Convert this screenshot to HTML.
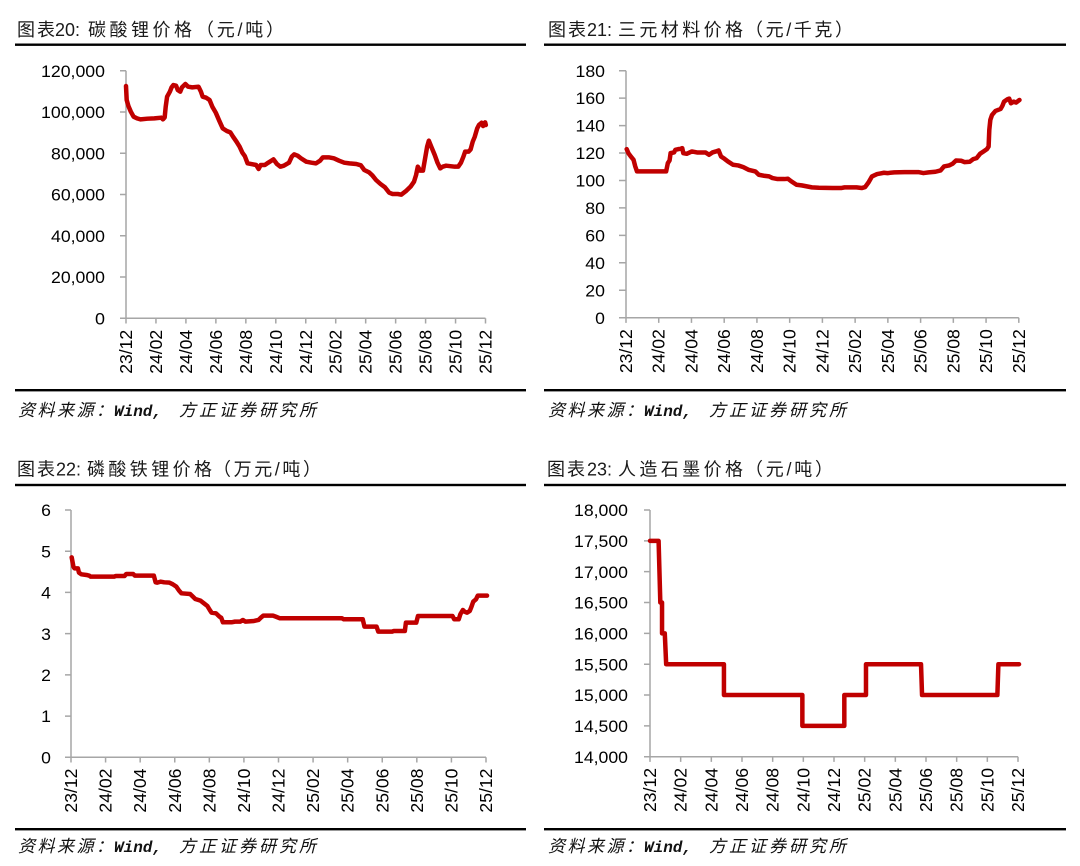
<!DOCTYPE html>
<html>
<head>
<meta charset="utf-8">
<style>
html,body{margin:0;padding:0;background:#fff;}
svg{display:block;}
.t{font-family:"Liberation Sans","Noto Sans CJK SC",sans-serif;font-size:18px;fill:#1a1a1a;}
.y{font-family:"Liberation Sans",sans-serif;font-size:17px;fill:#000;text-anchor:end;}
.x{font-family:"Liberation Sans",sans-serif;font-size:17.5px;fill:#000;text-anchor:end;}
.s{font-family:"Liberation Sans","Noto Sans CJK SC",sans-serif;font-size:17px;font-style:italic;fill:#111;}
.m{font-family:"Liberation Mono",monospace;font-size:16px;font-style:italic;font-weight:bold;fill:#111;}
.ax{stroke:#a6a6a6;stroke-width:1.5;fill:none;}
.ln{fill:none;stroke:#c00000;stroke-width:4.5;stroke-linejoin:round;stroke-linecap:round;}
</style>
</head>
<body>
<svg width="1080" height="866" viewBox="0 0 1080 866" xmlns="http://www.w3.org/2000/svg">
<rect width="1080" height="866" fill="#fff"/>

<!-- ================= Chart 1 ================= -->
<text class="t" x="17" y="36" textLength="38" lengthAdjust="spacing">图表</text>
<text class="t" x="55" y="36">20:</text>
<text class="t" x="88" y="36" textLength="104" lengthAdjust="spacing">碳酸锂价格</text>
<text class="t" x="196" y="36" textLength="88" lengthAdjust="spacing">（元/吨）</text>
<rect x="15" y="43.5" width="511" height="2.4" fill="#000"/>

<path class="ax" d="M126 70.7V318.3H485.5"/>
<path class="ax" d="M120 70.7H126M120 111.97H126M120 153.24H126M120 194.51H126M120 235.78H126M120 277.05H126M120 318.3H126"/>
<path class="ax" d="M126 318.3V323.5M155.96 318.3V323.5M185.92 318.3V323.5M215.88 318.3V323.5M245.84 318.3V323.5M275.8 318.3V323.5M305.76 318.3V323.5M335.72 318.3V323.5M365.68 318.3V323.5M395.64 318.3V323.5M425.6 318.3V323.5M455.56 318.3V323.5M485.5 318.3V323.5"/>

<text class="y" x="105" y="76.8" textLength="64" lengthAdjust="spacingAndGlyphs">120,000</text>
<text class="y" x="105" y="118.1" textLength="64" lengthAdjust="spacingAndGlyphs">100,000</text>
<text class="y" x="105" y="159.3" textLength="54" lengthAdjust="spacingAndGlyphs">80,000</text>
<text class="y" x="105" y="200.6" textLength="54" lengthAdjust="spacingAndGlyphs">60,000</text>
<text class="y" x="105" y="241.9" textLength="54" lengthAdjust="spacingAndGlyphs">40,000</text>
<text class="y" x="105" y="283.2" textLength="54" lengthAdjust="spacingAndGlyphs">20,000</text>
<text class="y" x="105" y="324.4" textLength="10" lengthAdjust="spacingAndGlyphs">0</text>

<g>
<text class="x" transform="translate(132,329.8) rotate(-90)" textLength="44" lengthAdjust="spacingAndGlyphs">23/12</text>
<text class="x" transform="translate(161.96,329.8) rotate(-90)" textLength="44" lengthAdjust="spacingAndGlyphs">24/02</text>
<text class="x" transform="translate(191.92,329.8) rotate(-90)" textLength="44" lengthAdjust="spacingAndGlyphs">24/04</text>
<text class="x" transform="translate(221.88,329.8) rotate(-90)" textLength="44" lengthAdjust="spacingAndGlyphs">24/06</text>
<text class="x" transform="translate(251.84,329.8) rotate(-90)" textLength="44" lengthAdjust="spacingAndGlyphs">24/08</text>
<text class="x" transform="translate(281.8,329.8) rotate(-90)" textLength="44" lengthAdjust="spacingAndGlyphs">24/10</text>
<text class="x" transform="translate(311.76,329.8) rotate(-90)" textLength="44" lengthAdjust="spacingAndGlyphs">24/12</text>
<text class="x" transform="translate(341.72,329.8) rotate(-90)" textLength="44" lengthAdjust="spacingAndGlyphs">25/02</text>
<text class="x" transform="translate(371.68,329.8) rotate(-90)" textLength="44" lengthAdjust="spacingAndGlyphs">25/04</text>
<text class="x" transform="translate(401.64,329.8) rotate(-90)" textLength="44" lengthAdjust="spacingAndGlyphs">25/06</text>
<text class="x" transform="translate(431.6,329.8) rotate(-90)" textLength="44" lengthAdjust="spacingAndGlyphs">25/08</text>
<text class="x" transform="translate(461.56,329.8) rotate(-90)" textLength="44" lengthAdjust="spacingAndGlyphs">25/10</text>
<text class="x" transform="translate(491.5,329.8) rotate(-90)" textLength="44" lengthAdjust="spacingAndGlyphs">25/12</text>
</g>

<g transform="translate(-1.09,0.05) scale(0.34534,0.33325)">
<polyline class="ln" vector-effect="non-scaling-stroke" points="368,258 370,300 375,318 382,335 390,350 400,355 410,358 430,356 450,355 470,353 475,358 480,352 483,320 487,290 495,275 500,262 505,255 513,257 518,270 525,275 530,262 540,252 548,260 560,262 578,260 585,275 590,290 600,293 610,300 618,320 628,338 638,362 648,385 660,393 670,397 678,410 688,425 697,440 705,458 712,468 720,490 735,493 745,495 752,507 758,495 770,495 780,488 795,478 805,492 815,500 825,497 840,488 848,470 855,463 865,467 875,475 890,485 905,488 918,490 930,482 938,472 955,472 970,475 985,482 1000,488 1015,490 1035,492 1048,496 1058,510 1072,517 1082,527 1092,540 1105,552 1118,562 1130,578 1140,582 1155,582 1165,584 1180,572 1192,560 1202,545 1208,525 1213,500 1220,512 1228,512 1235,470 1240,440 1245,422 1252,440 1262,465 1270,488 1278,505 1285,500 1295,497 1320,500 1330,500 1338,488 1345,470 1350,455 1360,455 1366,448 1372,425 1378,410 1385,385 1390,375 1398,368 1402,378 1408,367 1410,375"/>
</g>

<rect x="15" y="389" width="511" height="2.4" fill="#000"/>
<text class="s" x="18" y="416" textLength="95" lengthAdjust="spacing">资料来源：</text>
<text class="m" x="114" y="416">Wind,</text>
<text class="s" x="179" y="416" textLength="137" lengthAdjust="spacing">方正证券研究所</text>

<!-- ================= Chart 2 ================= -->
<text class="t" x="548" y="36" textLength="38" lengthAdjust="spacing">图表</text>
<text class="t" x="587" y="36">21:</text>
<text class="t" x="618" y="36" textLength="125" lengthAdjust="spacing">三元材料价格</text>
<text class="t" x="745" y="36" textLength="108" lengthAdjust="spacing">（元/千克）</text>
<rect x="544" y="43.5" width="522" height="2.4" fill="#000"/>

<path class="ax" d="M626 70.7V317.7H1018.8"/>
<path class="ax" d="M619 70.7H626M619 98.14H626M619 125.59H626M619 153.03H626M619 180.48H626M619 207.92H626M619 235.36H626M619 262.81H626M619 290.25H626M619 317.7H626"/>
<path class="ax" d="M626 317.7V322.9M658.73 317.7V322.9M691.47 317.7V322.9M724.2 317.7V322.9M756.93 317.7V322.9M789.67 317.7V322.9M822.4 317.7V322.9M855.13 317.7V322.9M887.87 317.7V322.9M920.6 317.7V322.9M953.33 317.7V322.9M986.07 317.7V322.9M1018.8 317.7V322.9"/>

<text class="y" x="605" y="76.8" textLength="29.5" lengthAdjust="spacingAndGlyphs">180</text>
<text class="y" x="605" y="104.2" textLength="29.5" lengthAdjust="spacingAndGlyphs">160</text>
<text class="y" x="605" y="131.7" textLength="29.5" lengthAdjust="spacingAndGlyphs">140</text>
<text class="y" x="605" y="159.1" textLength="29.5" lengthAdjust="spacingAndGlyphs">120</text>
<text class="y" x="605" y="186.6" textLength="29.5" lengthAdjust="spacingAndGlyphs">100</text>
<text class="y" x="605" y="214" textLength="19.7" lengthAdjust="spacingAndGlyphs">80</text>
<text class="y" x="605" y="241.5" textLength="19.7" lengthAdjust="spacingAndGlyphs">60</text>
<text class="y" x="605" y="268.9" textLength="19.7" lengthAdjust="spacingAndGlyphs">40</text>
<text class="y" x="605" y="296.4" textLength="19.7" lengthAdjust="spacingAndGlyphs">20</text>
<text class="y" x="605" y="323.8" textLength="9.8" lengthAdjust="spacingAndGlyphs">0</text>

<g>
<text class="x" transform="translate(632,329.2) rotate(-90)" textLength="44" lengthAdjust="spacingAndGlyphs">23/12</text>
<text class="x" transform="translate(664.73,329.2) rotate(-90)" textLength="44" lengthAdjust="spacingAndGlyphs">24/02</text>
<text class="x" transform="translate(697.47,329.2) rotate(-90)" textLength="44" lengthAdjust="spacingAndGlyphs">24/04</text>
<text class="x" transform="translate(730.2,329.2) rotate(-90)" textLength="44" lengthAdjust="spacingAndGlyphs">24/06</text>
<text class="x" transform="translate(762.93,329.2) rotate(-90)" textLength="44" lengthAdjust="spacingAndGlyphs">24/08</text>
<text class="x" transform="translate(795.67,329.2) rotate(-90)" textLength="44" lengthAdjust="spacingAndGlyphs">24/10</text>
<text class="x" transform="translate(828.4,329.2) rotate(-90)" textLength="44" lengthAdjust="spacingAndGlyphs">24/12</text>
<text class="x" transform="translate(861.13,329.2) rotate(-90)" textLength="44" lengthAdjust="spacingAndGlyphs">25/02</text>
<text class="x" transform="translate(893.87,329.2) rotate(-90)" textLength="44" lengthAdjust="spacingAndGlyphs">25/04</text>
<text class="x" transform="translate(926.6,329.2) rotate(-90)" textLength="44" lengthAdjust="spacingAndGlyphs">25/06</text>
<text class="x" transform="translate(959.33,329.2) rotate(-90)" textLength="44" lengthAdjust="spacingAndGlyphs">25/08</text>
<text class="x" transform="translate(992.07,329.2) rotate(-90)" textLength="44" lengthAdjust="spacingAndGlyphs">25/10</text>
<text class="x" transform="translate(1024.8,329.2) rotate(-90)" textLength="44" lengthAdjust="spacingAndGlyphs">25/12</text>
</g>

<g transform="translate(540.92,0.23) scale(0.34306,0.3324)">
<polyline class="ln" vector-effect="non-scaling-stroke" points="250,448 255,460 262,470 270,480 275,500 280,515 290,515 365,515 370,490 375,482 378,460 388,458 392,450 400,448 407,447 412,445 415,460 425,462 440,455 455,458 480,458 490,465 500,458 510,455 518,452 525,470 535,477 545,485 560,495 575,497 590,502 605,510 625,515 635,525 650,528 665,530 675,535 690,538 710,538 720,537 730,545 745,555 760,557 775,560 790,563 810,564 850,565 875,565 885,563 920,563 935,565 945,562 955,548 965,530 980,523 990,521 1000,519 1010,520 1030,518 1060,517 1100,517 1115,520 1130,518 1150,516 1165,512 1175,500 1190,497 1200,492 1210,482 1225,483 1235,487 1250,486 1260,478 1270,475 1280,462 1290,455 1300,448 1305,440 1307,390 1310,360 1315,345 1325,333 1340,327 1345,318 1350,305 1360,298 1365,296 1370,310 1378,305 1385,308 1395,300"/>
</g>

<rect x="544" y="389" width="522" height="2.4" fill="#000"/>
<text class="s" x="548" y="416" textLength="95" lengthAdjust="spacing">资料来源：</text>
<text class="m" x="644" y="416">Wind,</text>
<text class="s" x="709" y="416" textLength="137" lengthAdjust="spacing">方正证券研究所</text>

<!-- ================= Chart 3 ================= -->
<text class="t" x="17" y="475.5" textLength="38" lengthAdjust="spacing">图表</text>
<text class="t" x="56" y="475.5">22:</text>
<text class="t" x="87" y="475.5" textLength="125" lengthAdjust="spacing">磷酸铁锂价格</text>
<text class="t" x="213" y="475.5" textLength="108" lengthAdjust="spacing">（万元/吨）</text>
<rect x="15" y="483.8" width="511" height="2.4" fill="#000"/>

<path class="ax" d="M71 510V757.3H486"/>
<path class="ax" d="M65 510H71M65 551.22H71M65 592.43H71M65 633.65H71M65 674.87H71M65 716.08H71M65 757.3H71"/>
<path class="ax" d="M71 757.3V762.5M105.58 757.3V762.5M140.17 757.3V762.5M174.75 757.3V762.5M209.33 757.3V762.5M243.92 757.3V762.5M278.5 757.3V762.5M313.08 757.3V762.5M347.67 757.3V762.5M382.25 757.3V762.5M416.83 757.3V762.5M451.42 757.3V762.5M486 757.3V762.5"/>

<text class="y" x="51" y="516.1" textLength="9.8" lengthAdjust="spacingAndGlyphs">6</text>
<text class="y" x="51" y="557.3" textLength="9.8" lengthAdjust="spacingAndGlyphs">5</text>
<text class="y" x="51" y="598.5" textLength="9.8" lengthAdjust="spacingAndGlyphs">4</text>
<text class="y" x="51" y="639.8" textLength="9.8" lengthAdjust="spacingAndGlyphs">3</text>
<text class="y" x="51" y="681" textLength="9.8" lengthAdjust="spacingAndGlyphs">2</text>
<text class="y" x="51" y="722.2" textLength="9.8" lengthAdjust="spacingAndGlyphs">1</text>
<text class="y" x="51" y="763.4" textLength="9.8" lengthAdjust="spacingAndGlyphs">0</text>

<g>
<text class="x" transform="translate(77,768.6) rotate(-90)" textLength="44" lengthAdjust="spacingAndGlyphs">23/12</text>
<text class="x" transform="translate(111.58,768.6) rotate(-90)" textLength="44" lengthAdjust="spacingAndGlyphs">24/02</text>
<text class="x" transform="translate(146.17,768.6) rotate(-90)" textLength="44" lengthAdjust="spacingAndGlyphs">24/04</text>
<text class="x" transform="translate(180.75,768.6) rotate(-90)" textLength="44" lengthAdjust="spacingAndGlyphs">24/06</text>
<text class="x" transform="translate(215.33,768.6) rotate(-90)" textLength="44" lengthAdjust="spacingAndGlyphs">24/08</text>
<text class="x" transform="translate(249.92,768.6) rotate(-90)" textLength="44" lengthAdjust="spacingAndGlyphs">24/10</text>
<text class="x" transform="translate(284.5,768.6) rotate(-90)" textLength="44" lengthAdjust="spacingAndGlyphs">24/12</text>
<text class="x" transform="translate(319.08,768.6) rotate(-90)" textLength="44" lengthAdjust="spacingAndGlyphs">25/02</text>
<text class="x" transform="translate(353.67,768.6) rotate(-90)" textLength="44" lengthAdjust="spacingAndGlyphs">25/04</text>
<text class="x" transform="translate(388.25,768.6) rotate(-90)" textLength="44" lengthAdjust="spacingAndGlyphs">25/06</text>
<text class="x" transform="translate(422.83,768.6) rotate(-90)" textLength="44" lengthAdjust="spacingAndGlyphs">25/08</text>
<text class="x" transform="translate(457.42,768.6) rotate(-90)" textLength="44" lengthAdjust="spacingAndGlyphs">25/10</text>
<text class="x" transform="translate(492,768.6) rotate(-90)" textLength="44" lengthAdjust="spacingAndGlyphs">25/12</text>
</g>

<g transform="translate(0.22,440) scale(0.34526,0.33329)">
<polyline class="ln" vector-effect="non-scaling-stroke" points="207,352 212,380 215,385 225,385 228,398 235,403 250,405 258,407 262,410 330,410 335,408 360,408 365,402 385,402 390,407 445,407 450,427 455,428 465,425 475,427 490,428 500,433 510,440 518,452 525,460 550,462 558,470 565,477 580,482 590,490 600,498 607,510 612,518 625,520 635,530 640,533 645,547 670,547 680,545 695,545 703,540 710,545 735,543 748,540 755,533 762,527 790,527 798,530 810,535 990,535 995,538 1050,538 1055,560 1090,560 1095,575 1135,575 1140,573 1172,573 1175,548 1205,548 1210,528 1310,528 1315,538 1328,538 1333,522 1340,510 1345,515 1352,518 1360,513 1365,500 1370,485 1378,478 1383,467 1410,467"/>
</g>

<rect x="15" y="828" width="511" height="2.4" fill="#000"/>
<text class="s" x="18" y="852" textLength="95" lengthAdjust="spacing">资料来源：</text>
<text class="m" x="114" y="852">Wind,</text>
<text class="s" x="179" y="852" textLength="137" lengthAdjust="spacing">方正证券研究所</text>

<!-- ================= Chart 4 ================= -->
<text class="t" x="547" y="475.5" textLength="38" lengthAdjust="spacing">图表</text>
<text class="t" x="587" y="475.5">23:</text>
<text class="t" x="618" y="475.5" textLength="125" lengthAdjust="spacing">人造石墨价格</text>
<text class="t" x="745" y="475.5" textLength="88" lengthAdjust="spacing">（元/吨）</text>
<rect x="544" y="483.8" width="522" height="2.4" fill="#000"/>

<path class="ax" d="M650 510V756.7H1018"/>
<path class="ax" d="M644 510H650M644 540.84H650M644 571.68H650M644 602.51H650M644 633.35H650M644 664.19H650M644 695.03H650M644 725.86H650M644 756.7H650"/>
<path class="ax" d="M650 756.7V761.9M680.67 756.7V761.9M711.33 756.7V761.9M742 756.7V761.9M772.67 756.7V761.9M803.33 756.7V761.9M834 756.7V761.9M864.67 756.7V761.9M895.33 756.7V761.9M926 756.7V761.9M956.67 756.7V761.9M987.33 756.7V761.9M1018 756.7V761.9"/>

<text class="y" x="628" y="516.1" textLength="54" lengthAdjust="spacingAndGlyphs">18,000</text>
<text class="y" x="628" y="546.9" textLength="54" lengthAdjust="spacingAndGlyphs">17,500</text>
<text class="y" x="628" y="577.8" textLength="54" lengthAdjust="spacingAndGlyphs">17,000</text>
<text class="y" x="628" y="608.6" textLength="54" lengthAdjust="spacingAndGlyphs">16,500</text>
<text class="y" x="628" y="639.5" textLength="54" lengthAdjust="spacingAndGlyphs">16,000</text>
<text class="y" x="628" y="670.3" textLength="54" lengthAdjust="spacingAndGlyphs">15,500</text>
<text class="y" x="628" y="701.1" textLength="54" lengthAdjust="spacingAndGlyphs">15,000</text>
<text class="y" x="628" y="732" textLength="54" lengthAdjust="spacingAndGlyphs">14,500</text>
<text class="y" x="628" y="762.8" textLength="54" lengthAdjust="spacingAndGlyphs">14,000</text>

<g>
<text class="x" transform="translate(656,768) rotate(-90)" textLength="44" lengthAdjust="spacingAndGlyphs">23/12</text>
<text class="x" transform="translate(686.67,768) rotate(-90)" textLength="44" lengthAdjust="spacingAndGlyphs">24/02</text>
<text class="x" transform="translate(717.33,768) rotate(-90)" textLength="44" lengthAdjust="spacingAndGlyphs">24/04</text>
<text class="x" transform="translate(748,768) rotate(-90)" textLength="44" lengthAdjust="spacingAndGlyphs">24/06</text>
<text class="x" transform="translate(778.67,768) rotate(-90)" textLength="44" lengthAdjust="spacingAndGlyphs">24/08</text>
<text class="x" transform="translate(809.33,768) rotate(-90)" textLength="44" lengthAdjust="spacingAndGlyphs">24/10</text>
<text class="x" transform="translate(840,768) rotate(-90)" textLength="44" lengthAdjust="spacingAndGlyphs">24/12</text>
<text class="x" transform="translate(870.67,768) rotate(-90)" textLength="44" lengthAdjust="spacingAndGlyphs">25/02</text>
<text class="x" transform="translate(901.33,768) rotate(-90)" textLength="44" lengthAdjust="spacingAndGlyphs">25/04</text>
<text class="x" transform="translate(932,768) rotate(-90)" textLength="44" lengthAdjust="spacingAndGlyphs">25/06</text>
<text class="x" transform="translate(962.67,768) rotate(-90)" textLength="44" lengthAdjust="spacingAndGlyphs">25/08</text>
<text class="x" transform="translate(993.33,768) rotate(-90)" textLength="44" lengthAdjust="spacingAndGlyphs">25/10</text>
<text class="x" transform="translate(1024,768) rotate(-90)" textLength="44" lengthAdjust="spacingAndGlyphs">25/12</text>
</g>

<g transform="translate(539.94,440.18) scale(0.34393,0.33248)">
<polyline class="ln" vector-effect="non-scaling-stroke" points="320,302.75 345,302.75 350,488.25 355,488.25 355,581 363,581 367,673.75 535,673.75 535,766.5 763,766.5 763,859.25 885,859.25 885,766.5 948,766.5 948,673.75 1108,673.75 1111,766.5 1330,766.5 1333,673.75 1393,673.75"/>
</g>

<rect x="544" y="828" width="522" height="2.4" fill="#000"/>
<text class="s" x="548" y="852" textLength="95" lengthAdjust="spacing">资料来源：</text>
<text class="m" x="644" y="852">Wind,</text>
<text class="s" x="709" y="852" textLength="137" lengthAdjust="spacing">方正证券研究所</text>

</svg>
</body>
</html>
